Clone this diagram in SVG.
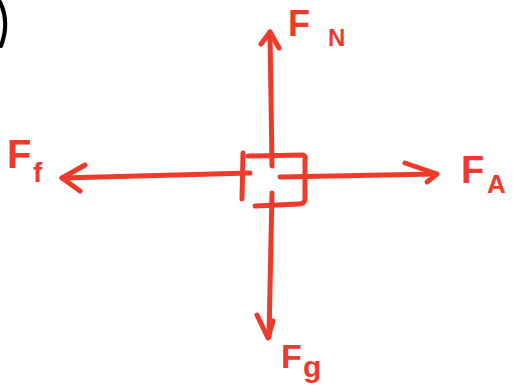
<svg xmlns="http://www.w3.org/2000/svg" width="513" height="392" viewBox="0 0 513 392">
<style>
.s{fill:none;stroke:#ee3a2a;stroke-width:5;stroke-linecap:round;stroke-linejoin:round}
.t{fill:#ee3a2a;font-family:"Liberation Sans",Arial,sans-serif;font-weight:bold}
</style>
<rect width="513" height="392" fill="#fff"/>
<path d="M0,2 C6,14 7,30 1,46" fill="none" stroke="#000" stroke-width="4" stroke-linecap="round"/>
<g id="box">
<path class="s" d="M243,153 L242,199"/>
<path class="s" d="M248,156 L303,155 Q306,156 305,160 L305,200 Q304,204 299,204 L255,206"/>
</g>
<g id="connectors">
<path class="s" d="M272,166 L270,32"/>
<path class="s" d="M261,44 L270,32 L279,48"/>
<path class="s" d="M272,193 L269,337"/>
<path class="s" d="M257,315 L268,338 L273,321"/>
<path class="s" d="M250,173 L62,178"/>
<path class="s" d="M85,165 L62,178 L80,191"/>
<path class="s" d="M280,177 L436,174"/>
<path class="s" d="M405,163 L437,174 L427,182"/>
</g>
<g id="FN"><text class="t" x="288" y="36" font-size="36">F</text><text class="t" x="328" y="46" font-size="24">N</text></g>
<g id="FA"><text class="t" x="461" y="183" font-size="38">F</text><text class="t" x="487" y="193" font-size="26">A</text></g>
<g id="Fg"><text class="t" x="281" y="368" font-size="34">F</text><text class="t" x="303" y="377" font-size="30">g</text></g>
<g id="Ff"><text class="t" x="7" y="168" font-size="40">F</text><text class="t" x="33" y="182" font-size="28">f</text></g>
</svg>
